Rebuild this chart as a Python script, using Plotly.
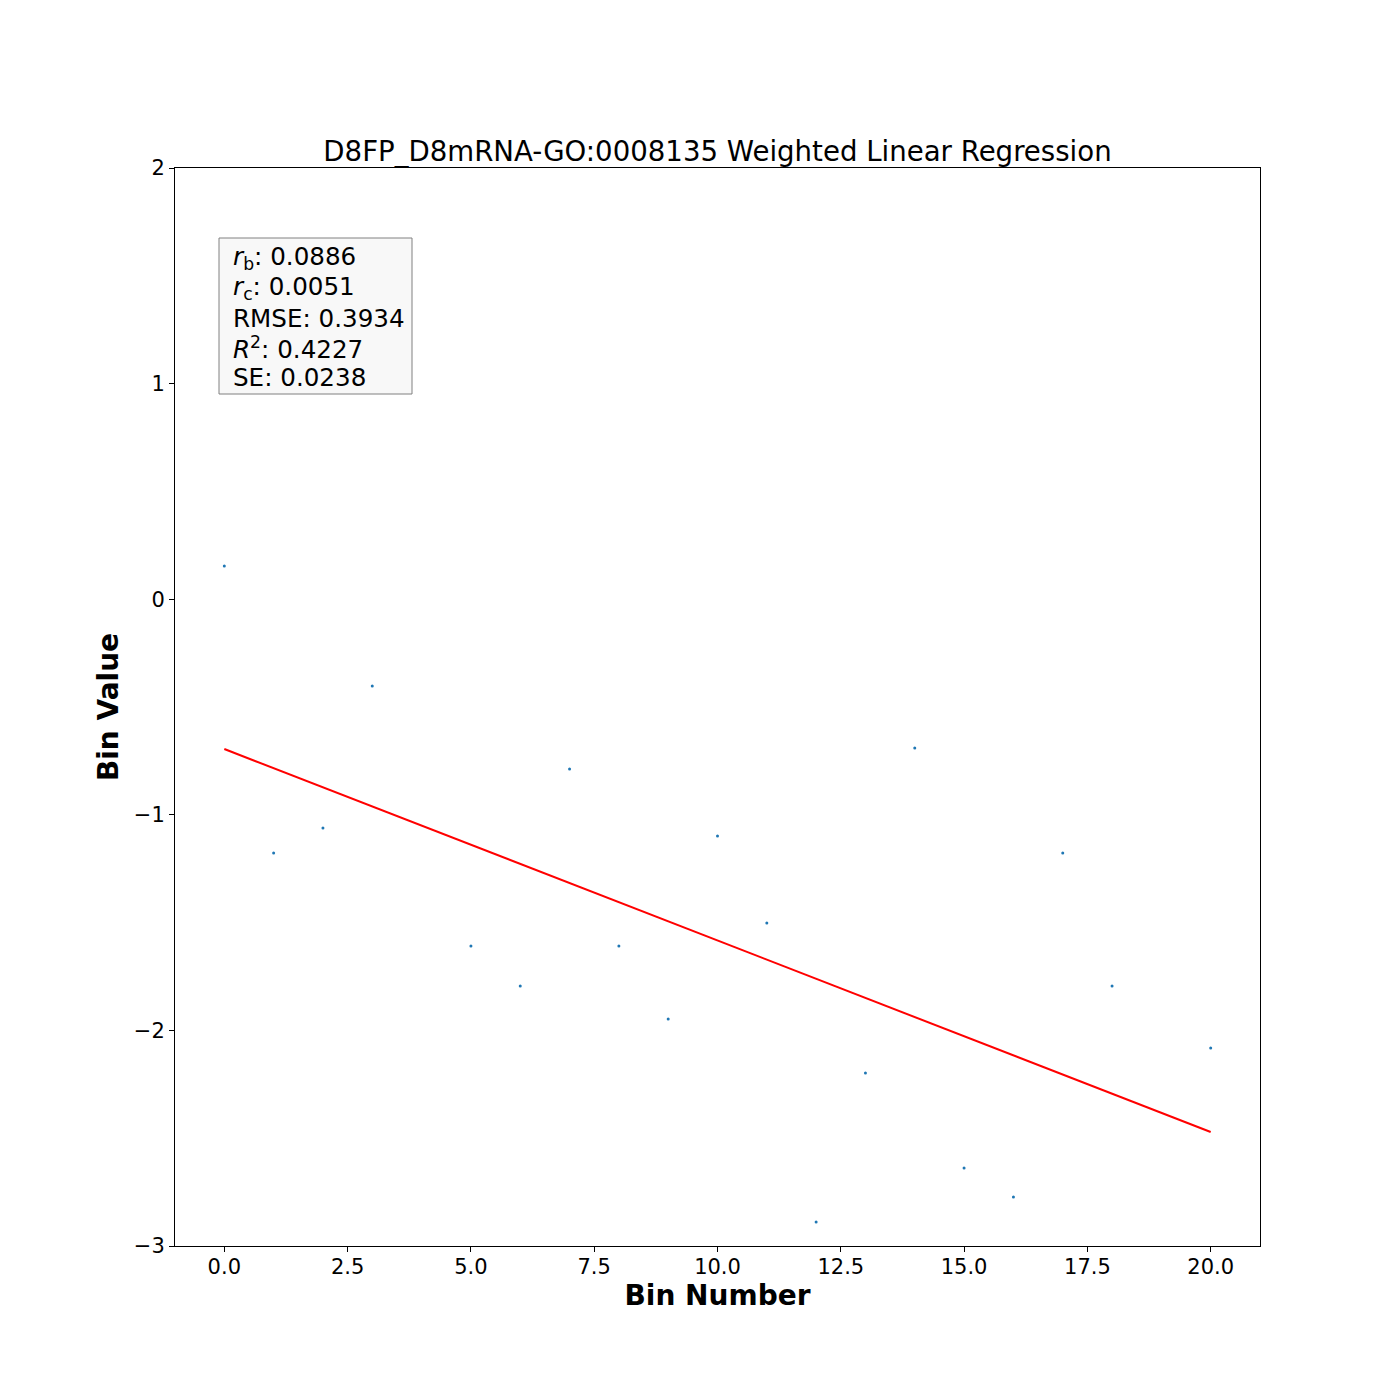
import plotly.graph_objects as go

bins = [0, 1, 2, 3, 5, 6, 7, 8, 9, 10, 11, 12, 13, 14, 15, 16, 17, 18, 20]
values = [0.154, -1.177, -1.061, -0.403, -1.609, -1.794, -0.788, -1.609, -1.947,
          -1.098, -1.502, -2.889, -2.198, -0.690, -2.638, -2.773, -1.177, -1.794, -2.082]
fit_x = [0, 20]
fit_y = [-0.695, -2.471]

x_ticks = [0, 2.5, 5, 7.5, 10, 12.5, 15, 17.5, 20]
x_tick_text = ["0.0", "2.5", "5.0", "7.5", "10.0", "12.5", "15.0", "17.5", "20.0"]
y_ticks = [-3, -2, -1, 0, 1, 2]
y_tick_text = ["\u22123", "\u22122", "\u22121", "0", "1", "2"]

title = "D8FP_D8mRNA-GO:0008135 Weighted Linear Regression"
stats_lines = ["<i>r</i><sub>b</sub>: 0.0886",
               "<i>r</i><sub>c</sub>: 0.0051",
               "RMSE: 0.3934",
               "<i>R</i><sup>2</sup>: 0.4227",
               "SE: 0.0238"]

font = "DejaVu Sans"

# plot area in page pixels (for placing the text box)
PX0, PX1, PY0, PY1 = 175, 1260, 168, 1246


def px(x):
    return (x - PX0) / (PX1 - PX0)


def py(y):
    return (PY1 - y) / (PY1 - PY0)


fig = go.Figure()
fig.add_trace(go.Scatter(x=bins, y=values, mode="markers",
                         marker=dict(color="#1f77b4", size=3), showlegend=False))
fig.add_trace(go.Scatter(x=fit_x, y=fit_y, mode="lines",
                         line=dict(color="red", width=2), showlegend=False))

axis_common = dict(showline=True, linecolor="black", linewidth=1, mirror=True,
                   ticks="outside", ticklen=5, tickcolor="black", showgrid=False,
                   zeroline=False, tickfont=dict(family=font, size=21, color="black"))

annotations = []
for i, line in enumerate(stats_lines):
    annotations.append(dict(text=line, xref="paper", yref="paper", x=px(230.5), y=py(258 + 30 * i),
                            xanchor="left", yanchor="middle", align="left", showarrow=False,
                            font=dict(family=font, size=24.6, color="black")))

fig.update_layout(
    width=1400, height=1400,
    margin=dict(l=167, r=148, t=160, b=162),
    paper_bgcolor="white", plot_bgcolor="white",
    title=dict(text=title, xref="paper", x=0.5, xanchor="center", y=1 - 143 / 1400, yanchor="middle",
               font=dict(family=font, size=27.6, color="black")),
    xaxis=dict(range=[-1, 21], tickvals=x_ticks, ticktext=x_tick_text, ticklabelstandoff=-3,
               title=dict(text="<b>Bin Number</b>", font=dict(family=font, size=28, color="black"),
                          standoff=7), **axis_common),
    yaxis=dict(range=[-3, 2], tickvals=y_ticks, ticktext=y_tick_text,
               title=dict(text="<b>Bin Value</b>", font=dict(family=font, size=28, color="black"),
                          standoff=7), **axis_common),
    shapes=[dict(type="rect", xref="paper", yref="paper", x0=px(219), x1=px(412), y0=py(394), y1=py(238),
                 fillcolor="rgba(248,248,248,1)", line=dict(color="#808080", width=1), layer="above")],
    annotations=annotations,
)

fig.write_html("out.html")
